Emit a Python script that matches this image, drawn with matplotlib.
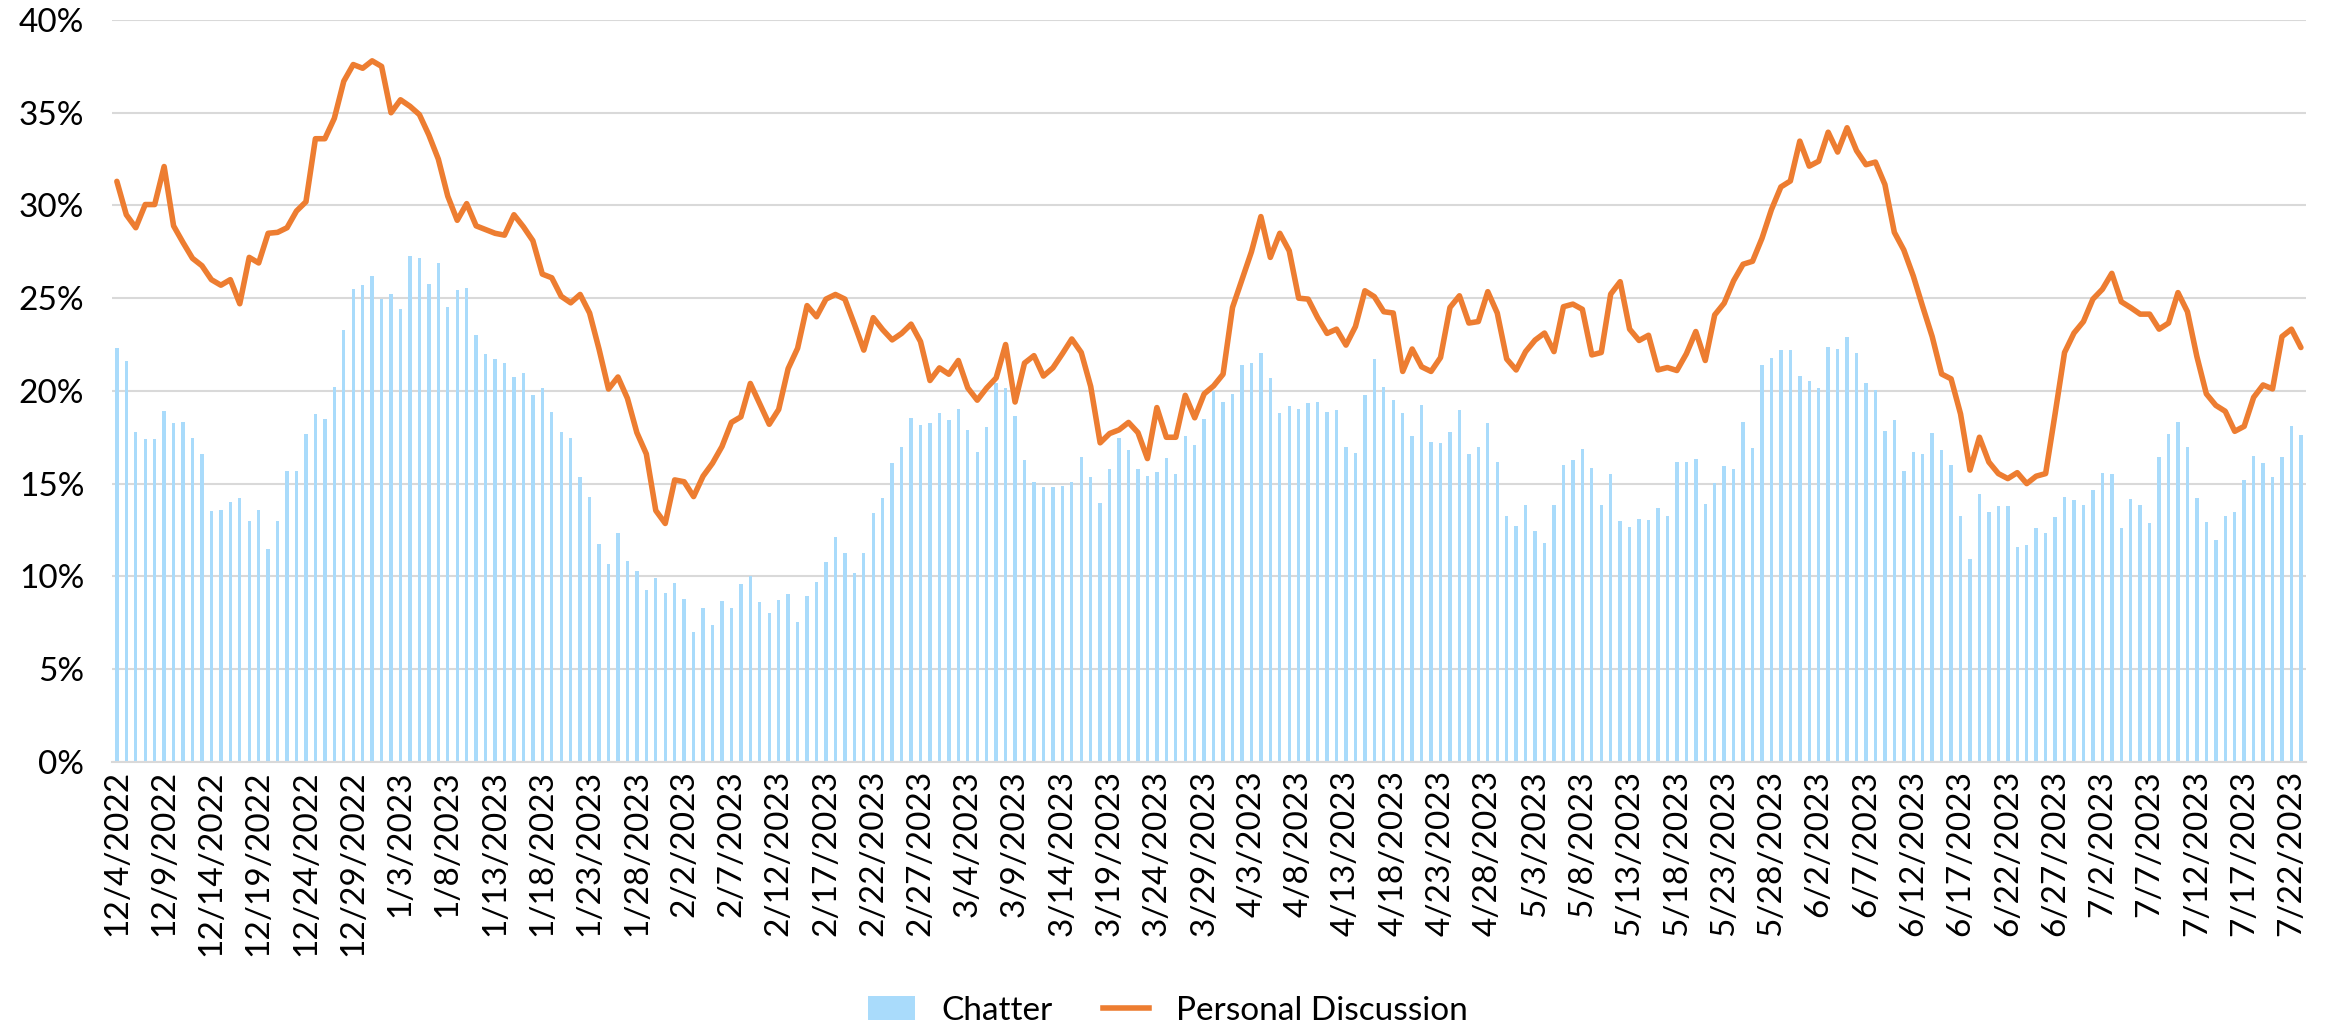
import pandas as pd
import matplotlib.pyplot as plt
from matplotlib.patches import Patch
from matplotlib.lines import Line2D
from matplotlib.ticker import FuncFormatter

# ===========================
# DATA (percent, one value per day from 12/4/2022)
# ===========================

START_DATE = "2022-12-04"

chatter = [
    22.3, 21.6, 17.8, 17.4, 17.4, 18.9, 18.25, 18.3, 17.45, 16.6,
    13.5, 13.6, 14.0, 14.2, 13.0, 13.6, 11.5, 13.0, 15.7, 15.7, 17.7,
    18.76, 18.47, 20.2, 23.3, 25.5, 25.7, 26.2, 24.95, 25.25, 24.4,
    27.3, 27.15, 25.75, 26.9, 24.5, 25.45, 25.55, 23.0, 22.0, 21.7, 21.5,
    20.75, 20.97, 19.76, 20.16, 18.87, 17.77, 17.47, 15.38, 14.27, 11.77,
    10.67, 12.34, 10.83, 10.27, 9.25, 9.92, 9.11, 9.65, 8.79, 7.0, 8.3,
    7.4, 8.66, 8.28, 9.6, 10.03, 8.6, 8.0, 8.7, 9.03, 7.55,
    8.92, 9.68, 10.78, 12.1, 11.24, 10.19, 11.26, 13.4, 14.2, 16.1, 17.0, 18.55,
    18.17, 18.28, 18.82, 18.44, 19.0, 17.9, 16.7, 18.04, 20.43, 20.13,
    18.66, 16.26, 15.08, 14.84, 14.84, 14.87, 15.1, 16.45, 15.35, 13.98, 15.8,
    17.47, 16.8, 15.8, 15.43, 15.6, 16.37, 15.5, 17.58, 17.07, 18.5,
    19.97, 19.38, 19.84, 21.37, 21.48, 22.04, 20.7, 18.8, 19.17, 19.03, 19.35,
    19.4, 18.87, 18.95, 16.96, 16.64, 19.78, 21.72, 20.22, 19.52, 18.82,
    17.58, 19.25, 17.26, 17.2, 17.77, 18.98, 16.61, 17.0, 18.25, 16.16, 13.23,
    12.72, 13.82, 12.45, 11.8, 13.87, 16.0, 16.29, 16.88, 15.86, 13.87,
    15.51, 12.98, 12.66, 13.09, 13.04, 13.71, 13.23, 16.18, 16.18, 16.32, 13.92,
    15.03, 15.97, 15.78, 18.33, 16.91, 21.4, 21.77, 22.23, 22.18, 20.81,
    20.56, 20.13, 22.39, 22.28, 22.88, 22.04, 20.4, 20.05, 17.85, 18.41, 15.67,
    16.69, 16.59, 17.74, 16.8, 16.02, 13.23, 10.94, 14.44, 13.47, 13.79,
    13.79, 11.56, 11.69, 12.61, 12.34, 13.2, 14.3, 14.09, 13.82, 14.68, 15.59,
    15.51, 12.58, 14.19, 13.82, 12.85, 16.42, 17.66, 18.31, 16.99, 14.25,
    12.93, 11.94, 13.25, 13.49, 15.19, 16.51, 16.13, 15.38, 16.42, 18.09, 17.63,
]

personal_discussion = [
    31.3, 29.5, 28.8, 30.05, 30.05, 32.1, 28.9, 28.0, 27.15, 26.75,
    26.0, 25.7, 26.0, 24.7, 27.2, 26.9, 28.5, 28.55, 28.8, 29.7, 30.2,
    33.6, 33.6, 34.7, 36.7, 37.6, 37.4, 37.8, 37.5, 35.0, 35.7,
    35.35, 34.9, 33.8, 32.5, 30.5, 29.2, 30.1, 28.9, 28.7, 28.5, 28.4,
    29.5, 28.85, 28.1, 26.3, 26.1, 25.1, 24.75, 25.2, 24.2, 22.25,
    20.1, 20.75, 19.6, 17.75, 16.6, 13.55, 12.85, 15.2, 15.1, 14.3, 15.4,
    16.1, 17.0, 18.3, 18.6, 20.4, 19.3, 18.2, 19.0, 21.2, 22.3,
    24.6, 24.0, 24.95, 25.2, 24.95, 23.6, 22.2, 23.95, 23.3, 22.75, 23.1, 23.6,
    22.66, 20.56, 21.24, 20.9, 21.64, 20.16, 19.5, 20.16, 20.7, 22.5,
    19.4, 21.5, 21.9, 20.8, 21.24, 22.0, 22.8, 22.07, 20.24, 17.2, 17.7,
    17.9, 18.3, 17.75, 16.35, 19.1, 17.5, 17.5, 19.76, 18.55, 19.84,
    20.27, 20.9, 24.5, 26.0, 27.5, 29.4, 27.2, 28.5, 27.55, 25.0, 24.95,
    23.95, 23.1, 23.33, 22.47, 23.47, 25.4, 25.08, 24.27, 24.2, 21.05,
    22.26, 21.3, 21.05, 21.8, 24.5, 25.13, 23.66, 23.74, 25.35, 24.2, 21.72,
    21.13, 22.12, 22.74, 23.12, 22.12, 24.54, 24.68, 24.4, 21.94, 22.07,
    25.22, 25.89, 23.33, 22.72, 23.0, 21.13, 21.26, 21.1, 22.0, 23.2, 21.64,
    24.1, 24.73, 25.94, 26.83, 26.99, 28.23, 29.78, 31.0, 31.32, 33.47,
    32.12, 32.39, 33.95, 32.88, 34.19, 32.96, 32.2, 32.34, 31.13, 28.55, 27.6,
    26.2, 24.54, 22.93, 20.91, 20.65, 18.76, 15.73, 17.5, 16.16, 15.54,
    15.27, 15.59, 15.0, 15.4, 15.54, 18.76, 22.07, 23.12, 23.74, 24.95, 25.48,
    26.34, 24.81, 24.49, 24.14, 24.14, 23.33, 23.66, 25.3, 24.27, 21.85,
    19.84, 19.22, 18.9, 17.82, 18.09, 19.65, 20.32, 20.11, 22.93, 23.33, 22.34,
]

# ===========================
# STYLE
# ===========================

BAR_COLOR = "#A9DBFB"
LINE_COLOR = "#ED7D31"
GRID_COLOR = "#D9D9D9"
FONT = "Lato"
FONT_SIZE = 24
LINE_WIDTH = 4.0

plt.rcParams["font.family"] = [FONT, "DejaVu Sans"]


def make_chart():
    dates = pd.date_range(START_DATE, periods=len(chatter), freq="D")
    x = list(range(len(dates)))

    fig = plt.figure(figsize=(23.36, 10.28), dpi=100)
    ax = fig.add_axes([0.048, 0.259, 0.939, 0.7215])

    ax.bar(x, chatter, width=0.36, color=BAR_COLOR, zorder=2)
    ax.plot(x, personal_discussion, color=LINE_COLOR, linewidth=LINE_WIDTH,
            solid_joinstyle="round", solid_capstyle="round", zorder=3)

    ax.set_xlim(-0.5, len(x) - 0.5)
    ax.set_ylim(0, 40)
    ax.set_yticks(range(0, 41, 5))
    ax.yaxis.set_major_formatter(FuncFormatter(lambda v, _: f"{v:.0f}%"))

    # label every fifth day
    tick_pos = x[::5]
    tick_lab = [f"{d.month}/{d.day}/{d.year}" for d in dates[::5]]
    ax.set_xticks(tick_pos)
    ax.set_xticklabels(tick_lab, rotation=90)

    ax.grid(axis="y", color=GRID_COLOR, linewidth=1.5, zorder=0)
    for side in ["top", "right", "left"]:
        ax.spines[side].set_visible(False)
    ax.spines["bottom"].set_color(GRID_COLOR)
    ax.spines["bottom"].set_linewidth(1.5)
    ax.tick_params(axis="both", length=0, labelsize=FONT_SIZE, colors="black")
    ax.tick_params(axis="y", pad=20)
    ax.tick_params(axis="x", pad=6)

    handles = [
        Patch(facecolor=BAR_COLOR, edgecolor="none"),
        Line2D([0], [0], color=LINE_COLOR, linewidth=LINE_WIDTH),
    ]
    fig.legend(handles, ["Chatter", "Personal Discussion"], loc="center",
               bbox_to_anchor=(0.5, 0.017), ncol=2, frameon=False,
               fontsize=FONT_SIZE, handlelength=1.4, columnspacing=1.5)

    fig.savefig("out.png", dpi=100)
    plt.close(fig)


if __name__ == "__main__":
    make_chart()
